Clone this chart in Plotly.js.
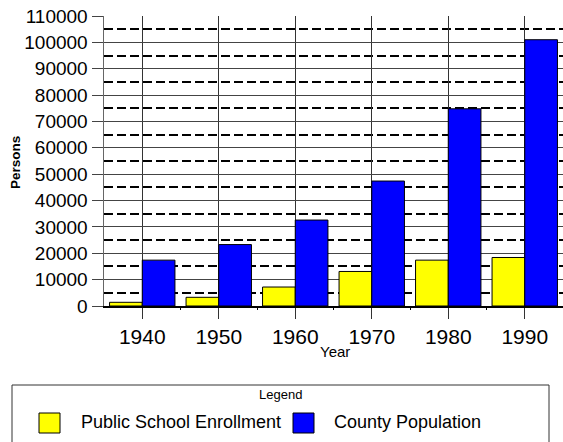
<!DOCTYPE html>
<html><head><meta charset="utf-8">
<script src="https://cdn.plot.ly/plotly-3.0.1.min.js"></script>
<style>html,body{margin:0;padding:0;background:#fff}</style>
</head><body><div id="chart" style="width:563px;height:442px"></div>
<script>
const years = [1940, 1950, 1960, 1970, 1980, 1990];
const yearLabels = ['1940', '1950', '1960', '1970', '1980', '1990'];
const enrollment = [1400, 3300, 7200, 13100, 17400, 18400];
const population = [17400, 23300, 32600, 47400, 74800, 101000];
const seriesNames = ['Public School Enrollment', 'County Population'];
const seriesColors = ['#FFFF00', '#0000FF'];

const W = 563, H = 442;
const M = {l: 104, r: 0, t: 16, b: 136};
const PW = W - M.l - M.r, PH = H - M.t - M.b;
const px = v => (v - M.l) / PW;
const py = v => (H - M.b - v) / PH;
const FONT = 'Liberation Sans, Arial, sans-serif';

const traces = [enrollment, population].map((vals, i) => ({
  type: 'bar', x: years, y: vals, name: seriesNames[i],
  marker: {color: seriesColors[i], line: {color: '#000', width: 1}},
  hoverinfo: 'x+y'
}));

const shapes = [
  {type: 'rect', xref: 'paper', yref: 'paper', x0: px(12), x1: px(549), y0: py(385), y1: py(460),
   line: {color: '#333', width: 1}, fillcolor: 'rgba(0,0,0,0)'},
  {type: 'rect', xref: 'paper', yref: 'paper', x0: px(39), x1: px(60), y0: py(413), y1: py(433),
   line: {color: '#000', width: 1}, fillcolor: seriesColors[0]},
  {type: 'rect', xref: 'paper', yref: 'paper', x0: px(293), x1: px(314), y0: py(413), y1: py(433),
   line: {color: '#000', width: 1}, fillcolor: seriesColors[1]}
];

const annotations = [
  {text: 'Legend', xref: 'paper', yref: 'paper', x: px(280.5), y: py(394), xanchor: 'center', yanchor: 'middle',
   showarrow: false, font: {family: FONT, size: 13, color: '#000'}},
  {text: seriesNames[0], xref: 'paper', yref: 'paper', x: px(79), y: py(422), xanchor: 'left', yanchor: 'middle',
   showarrow: false, font: {family: FONT, size: 18, color: '#000'}},
  {text: seriesNames[1], xref: 'paper', yref: 'paper', x: px(332), y: py(422), xanchor: 'left', yanchor: 'middle',
   showarrow: false, font: {family: FONT, size: 18, color: '#000'}},
  {text: 'Year', xref: 'paper', yref: 'paper', x: px(335), y: py(351), xanchor: 'center', yanchor: 'middle',
   showarrow: false, font: {family: FONT, size: 15, color: '#000'}},
  {text: '<b>Persons</b>', xref: 'paper', yref: 'paper', x: px(15), y: py(163), xanchor: 'center', yanchor: 'middle',
   textangle: -90, showarrow: false, font: {family: FONT, size: 13.5, color: '#000'}}
];

const layout = {
  width: W, height: H, margin: M,
  paper_bgcolor: '#fff', plot_bgcolor: '#fff',
  font: {family: FONT, color: '#000'},
  barmode: 'group', bargap: 0.145, bargroupgap: 0,
  showlegend: false,
  xaxis: {
    type: 'linear', range: [1935, 1995], tickvals: years, ticktext: yearLabels,
    showgrid: true, gridcolor: '#333', gridwidth: 1,
    ticks: 'outside', ticklen: 11, tickcolor: '#333', tickwidth: 1,
    tickfont: {family: FONT, size: 21, color: '#000'},
    showline: true, linecolor: '#000', linewidth: 1.5, zeroline: false,
    minor: {tickvals: [1945, 1955, 1965, 1975, 1985], ticks: 'outside', ticklen: 2, tickcolor: '#000', showgrid: false},
    fixedrange: true
  },
  yaxis: {
    range: [0, 110000], dtick: 10000, tick0: 0, tickformat: 'd',
    showgrid: true, gridcolor: '#444', gridwidth: 1,
    minor: {dtick: 5000, tick0: 0, showgrid: true, griddash: '9px,4px', gridcolor: '#000', gridwidth: 2},
    ticks: 'outside', ticklen: 11, tickcolor: '#444', tickwidth: 1,
    tickfont: {family: FONT, size: 19, color: '#000'},
    showline: true, linecolor: '#666', linewidth: 1.5, zeroline: false,
    fixedrange: true
  },
  shapes: shapes, annotations: annotations
};

Plotly.newPlot('chart', traces, layout, {staticPlot: true, displayModeBar: false});
</script></body></html>
